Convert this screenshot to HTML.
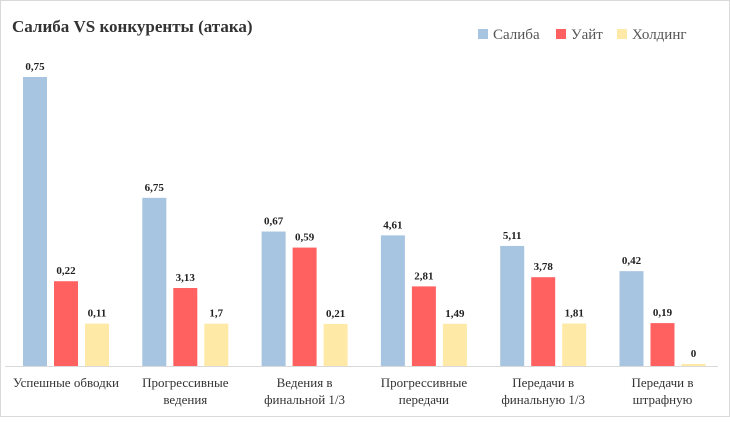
<!DOCTYPE html>
<html><head><meta charset="utf-8"><style>
body{margin:0;background:#fff;}
svg text{font-family:"Liberation Serif","DejaVu Serif",serif;}
</style></head><body>
<svg id="chart" width="730" height="417" xmlns="http://www.w3.org/2000/svg">
<rect x="0.5" y="0.5" width="729" height="416" fill="#fff" stroke="#d9d9d9"/>
<text x="12" y="32" font-size="17" font-weight="bold" fill="#333">Салиба VS конкуренты (атака)</text>
<g>
<rect x="478" y="29" width="10" height="10" fill="#a7c4e0"/>
<text x="493" y="39" font-size="15" fill="#555">Салиба</text>
<rect x="556" y="29" width="10" height="10" fill="#ff6161"/>
<text x="571" y="39" font-size="15" fill="#555">Уайт</text>
<rect x="617" y="29" width="10" height="10" fill="#ffe9a6"/>
<text x="632" y="39" font-size="15" fill="#555">Холдинг</text>
</g>
<line x1="5" y1="366.5" x2="718" y2="366.5" stroke="#d9d9d9"/>
<g id="bars"></g>
</svg>
<script>
const categories=[["Успешные обводки"],["Прогрессивные","ведения"],["Ведения в","финальной 1/3"],["Прогрессивные","передачи"],["Передачи в","финальную 1/3"],["Передачи в","штрафную"]];
const saliba=[0.75,6.75,0.67,4.61,5.11,0.42];
const white=[0.22,3.13,0.59,2.81,3.78,0.19];
const holding=[0.11,1.7,0.21,1.49,1.81,0];
const labelsSaliba=["0,75","6,75","0,67","4,61","5,11","0,42"];
const labelsWhite=["0,22","3,13","0,59","2,81","3,78","0,19"];
const labelsHolding=["0,11","1,7","0,21","1,49","1,81","0"];
const axisMax=[0.75,11.6,1.44,10.2,12.3,1.28];
const NS="http://www.w3.org/2000/svg";
const g=document.getElementById('bars');
const base=366, H=289, step=119.3, x0=23, bw=24, gap=7;
const series=[[saliba,labelsSaliba,"#a7c4e0","saliba"],[white,labelsWhite,"#ff6161","white"],[holding,labelsHolding,"#ffe9a6","holding"]];
function yScale(v,i){return base-v/axisMax[i]*H;}
categories.forEach((c,i)=>{
  series.forEach((s,j)=>{
    const x=x0+i*step+j*(bw+gap);
    const y=Math.min(yScale(s[0][i],i),base-2);
    const r=document.createElementNS(NS,'rect');
    r.setAttribute('x',x);r.setAttribute('y',y);r.setAttribute('width',bw);r.setAttribute('height',base-y);
    r.setAttribute('fill',s[2]);
    
    
    g.appendChild(r);
    const t=document.createElementNS(NS,'text');
    t.setAttribute('x',x+bw/2);t.setAttribute('y',y-7);t.setAttribute('text-anchor','middle');
    t.setAttribute('font-size','11');t.setAttribute('font-weight','bold');t.setAttribute('fill','#222');
    t.textContent=s[1][i];
    
    
    g.appendChild(t);
  });
  const cx=x0+i*step+bw+gap+bw/2;
  const t=document.createElementNS(NS,'text');
  t.setAttribute('text-anchor','middle');t.setAttribute('font-size','13');t.setAttribute('fill','#333');
  c.forEach((line,k)=>{const ts=document.createElementNS(NS,'tspan');ts.setAttribute('x',cx);ts.setAttribute('y',387+k*17);ts.textContent=line;t.appendChild(ts);});
  
  
  g.appendChild(t);
});
</script>
</body></html>
